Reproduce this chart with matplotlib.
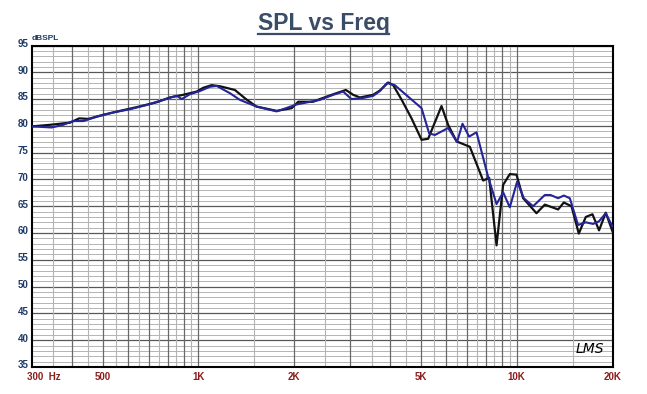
import numpy as np
import matplotlib
matplotlib.use("Agg")
import matplotlib.pyplot as plt
from matplotlib.lines import Line2D

# measured response, black trace
black_freq = [300, 342, 395, 422, 451, 497, 567, 640, 739, 814, 896, 940, 987,
              1035, 1100, 1168, 1302, 1417, 1523, 1761, 1963, 2059, 2293, 2408,
              2652, 2906, 3063, 3216, 3540, 3717, 3946, 4092, 4348, 4673, 5025,
              5271, 5805, 6089, 6473, 7125, 7844, 8194, 8644, 9067, 9514, 9987,
              10477, 11540, 12258, 13494, 14063, 14865, 15672, 16486, 17303,
              18146, 19050, 20000]
black_db = [79.9, 80.2, 80.6, 81.4, 81.3, 82.0, 82.8, 83.5, 84.4, 85.3, 85.8,
            86.1, 86.4, 87.1, 87.6, 87.4, 86.7, 84.9, 83.6, 82.8, 83.3, 84.5,
            84.5, 85.0, 85.9, 86.7, 85.8, 85.3, 85.8, 86.6, 88.1, 87.6, 84.9,
            81.4, 77.4, 77.6, 83.7, 80.2, 77.1, 76.1, 69.8, 70.3, 57.7, 69.0,
            71.0, 70.9, 66.5, 63.7, 65.3, 64.4, 65.7, 65.0, 59.9, 63.0, 63.5,
            60.5, 63.8, 60.3]

# measured response, blue trace
blue_freq = [300, 346, 376, 404, 435, 479, 540, 609, 688, 775, 854, 886, 940,
             1011, 1087, 1141, 1256, 1350, 1523, 1761, 2036, 2408, 2652, 2850,
             3024, 3288, 3540, 3717, 3915, 4140, 5025, 5308, 5533, 6089, 6495,
             6757, 7088, 7478, 8132, 8644, 9067, 9514, 10033, 10528, 11262,
             12258, 12773, 13494, 14063, 14685, 15594, 16486, 17380, 18146,
             19050, 20000]
blue_db = [79.9, 79.7, 80.2, 80.9, 80.9, 81.7, 82.5, 83.1, 83.9, 84.85, 85.65,
           85.0, 85.9, 86.5, 87.3, 87.45, 86.1, 84.85, 83.6, 82.7, 84.0, 84.85,
           85.8, 86.4, 85.0, 85.2, 85.6, 86.5, 88.0, 87.6, 83.3, 78.6, 78.3,
           79.6, 77.0, 80.4, 78.0, 78.8, 70.5, 65.4, 67.6, 64.8, 69.6, 66.5,
           65.0, 67.1, 67.1, 66.5, 67.0, 66.5, 61.5, 62.0, 61.7, 62.2, 63.7,
           61.2]

# grid lines and labels
major_x = [400, 500, 600, 700, 800, 900, 1000, 2000, 3000, 4000, 5000, 6000,
           7000, 8000, 9000, 10000]
minor_x = [350, 450, 550, 650, 750, 850, 950, 1500, 2500, 3500, 4500, 5500,
           6500, 7500, 8500, 9500, 15000]
x_label_pos = [500, 1000, 2000, 5000, 10000, 20000]
x_label_txt = ["500", "1K", "2K", "5K", "10K", "20K"]
y_ticks = list(range(35, 96, 5))

fig = plt.figure(figsize=(6.47, 3.94), dpi=100)
ax = fig.add_axes([32 / 647, 1 - 367 / 394, 580.5 / 647, 321.5 / 394])
ax.set_xscale("log")
ax.set_xlim(300, 20000)
ax.set_ylim(35, 95)

# grid
for v in range(36, 95):
    if v % 5:
        ax.axhline(v, color="#b4b4b4", lw=0.7, zorder=1)
for v in y_ticks:
    ax.axhline(v, color="#585858", lw=0.9, zorder=1)
for f in minor_x:
    ax.axvline(f, color="#b4b4b4", lw=0.8, zorder=1)
for f in major_x:
    ax.axvline(f, color="#686868", lw=0.9, zorder=1)

ax.plot(black_freq, black_db, color="#111111", lw=1.6, zorder=3)
ax.plot(blue_freq, blue_db, color="#25259a", lw=1.5, zorder=4)

ax.set_xticks([])
ax.set_yticks([])
ax.minorticks_off()
for s in ax.spines.values():
    s.set_linewidth(1.5)
    s.set_color("black")

# tick labels
ycol = "#1f3a66"
xcol = "#8b1c1c"
for v in y_ticks:
    ax.text(-0.006, v + 0.3, str(v), transform=ax.get_yaxis_transform(),
            ha="right", va="center", fontsize=7, fontweight="bold",
            color=ycol, family="Liberation Sans")
for f, t in zip(x_label_pos, x_label_txt):
    ax.text(f, -0.03, t, transform=ax.get_xaxis_transform(), ha="center",
            va="center", fontsize=7, fontweight="bold", color=xcol,
            family="Liberation Sans")
ax.text(-0.008, -0.03, "300  Hz", transform=ax.transAxes, ha="left",
        va="center", fontsize=7, fontweight="bold", color=xcol,
        family="Liberation Sans")
ax.text(0.0, 1.01, "dBSPL", transform=ax.transAxes, ha="left", va="bottom",
        fontsize=6, fontweight="bold", color=ycol, family="Liberation Sans")

# LMS mark
ax.text(0.985, 0.035, "LMS", transform=ax.transAxes, ha="right",
        va="bottom", fontsize=10, style="italic", color="black",
        family="DejaVu Sans", zorder=5)

# underlined title
title = fig.text(0.5, 0.94, "SPL vs Freq", ha="center", va="center",
                 fontsize=16.5, fontweight="bold", color="#3a4d66",
                 family="Liberation Sans")
fig.canvas.draw()
bb = title.get_window_extent().transformed(fig.transFigure.inverted())
fig.add_artist(Line2D([bb.x0, bb.x1], [bb.y0 + 0.002, bb.y0 + 0.002],
                      transform=fig.transFigure, color="#3a4d66", lw=1.6))

fig.savefig("out.png", dpi=100, facecolor="white")
